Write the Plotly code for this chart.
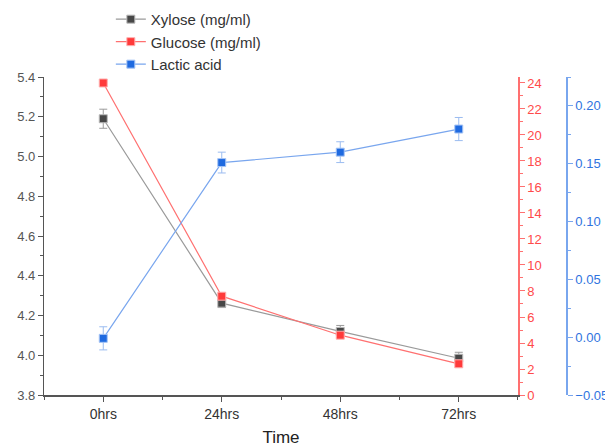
import plotly.graph_objects as go

categories = ["0hrs", "24hrs", "48hrs", "72hrs"]
xylose = [5.19, 4.262, 4.12, 3.985]
xylose_err = [0.048, 0.022, 0.03, 0.03]
glucose = [24.0, 7.6, 4.6, 2.4]
lactic = [-0.001, 0.151, 0.160, 0.180]
lactic_err = [0.010, 0.009, 0.009, 0.010]

xi = list(range(len(categories)))

GRAY_M = "#474747"; GRAY_L = "#9a9a9a"
RED_M = "#ff3a3a"; RED_L = "#ff7070"
BLUE_M = "#1f6ae0"; BLUE_L = "#79a6ee"

fig = go.Figure()
fig.add_trace(go.Scatter(
    x=xi, y=xylose, name="Xylose (mg/ml)", mode="lines+markers",
    line=dict(color=GRAY_L, width=1.2),
    marker=dict(symbol="square", size=8, color=GRAY_M, line=dict(color="#bbbbbb", width=1)),
    error_y=dict(type="data", array=xylose_err, color=GRAY_L, thickness=1, width=4),
    yaxis="y"))
fig.add_trace(go.Scatter(
    x=xi, y=glucose, name="Glucose (mg/ml)", mode="lines+markers",
    line=dict(color=RED_L, width=1.2),
    marker=dict(symbol="square", size=8, color=RED_M, line=dict(color="#ffb0b0", width=1)),
    yaxis="y2"))
fig.add_trace(go.Scatter(
    x=xi, y=lactic, name="Lactic acid", mode="lines+markers",
    line=dict(color=BLUE_L, width=1.2),
    marker=dict(symbol="square", size=8, color=BLUE_M, line=dict(color="#a8c6f5", width=1)),
    error_y=dict(type="data", array=lactic_err, color="#9bbcf0", thickness=1, width=4),
    yaxis="y3"))

font_family = "Liberation Sans, Arial, sans-serif"

fig.update_layout(
    width=605, height=440,
    margin=dict(l=36, r=46, t=69, b=53, autoexpand=False),
    paper_bgcolor="white", plot_bgcolor="white",
    font=dict(family=font_family, size=13, color="#555555"),
    showlegend=True,
    legend=dict(x=0.1278, y=1.233,
                xanchor="left", yanchor="top",
                font=dict(size=15, color="#333333"), bgcolor="rgba(0,0,0,0)",
                tracegroupgap=0, itemwidth=30),
    xaxis=dict(
        domain=[0, 0.9063], range=[-0.5, 3.5], automargin=False,
        tickmode="array", tickvals=xi, ticktext=categories,
        showgrid=False, zeroline=False,
        showline=True, linecolor="#555555", linewidth=1.5,
        ticks="outside", ticklen=5, tickcolor="#555555",
        minor=dict(tickmode="linear", tick0=0.5, dtick=1, ticks="outside", ticklen=3, tickcolor="#555555"),
        tickfont=dict(size=14, color="#333333"),
        title=dict(text="Time", font=dict(size=17, color="#222222"), standoff=11),
    ),
    yaxis=dict(
        range=[3.8, 5.4], tickmode="linear", tick0=3.8, dtick=0.2, tickformat=".1f",
        automargin=False,
        showgrid=False, zeroline=False,
        showline=True, linecolor="#555555", linewidth=1.2,
        ticks="outside", ticklen=5, tickcolor="#555555",
        minor=dict(dtick=0.1, ticks="outside", ticklen=3, tickcolor="#555555"),
        tickfont=dict(size=13, color="#555555"),
    ),
    yaxis2=dict(
        range=[0, 24.46], overlaying="y", side="right", anchor="x", automargin=False,
        tickmode="linear", tick0=0, dtick=2,
        showgrid=False, zeroline=False,
        showline=True, linecolor=RED_L, linewidth=1.5,
        ticks="outside", ticklen=5, tickcolor=RED_L,
        minor=dict(dtick=1, ticks="outside", ticklen=3, tickcolor=RED_L),
        tickfont=dict(size=13, color="#ff4a4a"),
    ),
    yaxis3=dict(
        range=[-0.05, 0.225], overlaying="y", side="right", anchor="free", position=1.0,
        automargin=False,
        tickmode="linear", tick0=-0.05, dtick=0.05, tickformat=".2f",
        showgrid=False, zeroline=False,
        showline=True, linecolor=BLUE_L, linewidth=1.5,
        ticks="outside", ticklen=5, tickcolor=BLUE_L,
        minor=dict(dtick=0.025, ticks="outside", ticklen=3, tickcolor=BLUE_L),
        tickfont=dict(size=13, color="#2f74e0"),
    ),
)

fig.write_html("out.html")
